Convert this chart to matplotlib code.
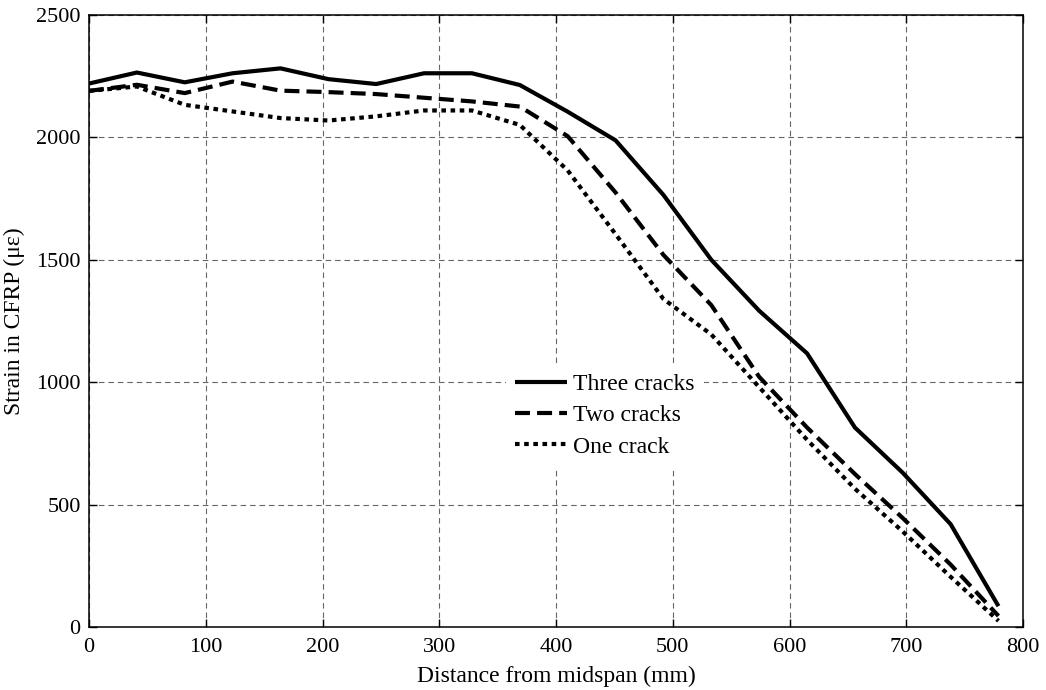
import numpy as np
import matplotlib.pyplot as plt

# distance from midspan (mm) and CFRP strain (micro-strain) for each crack case
distance = [0, 41, 82, 123, 164, 205, 246, 287, 328, 369,
            410, 451, 492, 533, 574, 615, 656, 697, 738, 779]
three_cracks = [2220, 2265, 2225, 2262, 2282, 2238, 2218, 2262, 2262, 2214,
                2105, 1988, 1765, 1500, 1292, 1118, 815, 630, 420, 85]
two_cracks = [2190, 2215, 2181, 2228, 2191, 2185, 2177, 2162, 2147, 2126,
              2005, 1775, 1520, 1315, 1022, 815, 625, 445, 255, 45]
one_crack = [2190, 2208, 2133, 2106, 2079, 2069, 2086, 2110, 2110, 2051,
             1865, 1605, 1340, 1195, 980, 765, 565, 390, 205, 25]

plt.rcParams["font.family"] = ["Liberation Serif", "DejaVu Serif"]

fig = plt.figure(figsize=(10.46, 6.9), dpi=100)
ax = fig.add_axes([89 / 1046, 1 - 627 / 690, 934 / 1046, 612 / 690])

lw = 3
ax.plot(distance, three_cracks, color="black", lw=lw, solid_capstyle="butt",
        label="Three cracks")
ax.plot(distance, two_cracks, color="black", lw=lw, dashes=(3.6, 1.7),
        dash_capstyle="butt", label="Two cracks")
ax.plot(distance, one_crack, color="black", lw=lw, dashes=(1.1, 1.1),
        dash_capstyle="butt", label="One crack")

ax.set_xlim(0, 800)
ax.set_ylim(0, 2500)
ax.set_xticks(np.arange(0, 801, 100))
ax.set_yticks(np.arange(0, 2501, 500))

ax.grid(True, color="#666666", linestyle=(0, (5, 3.5)), linewidth=0.8)
ax.set_axisbelow(True)

ax.tick_params(direction="in", length=6, width=1, top=True, right=True,
               labelsize=16, pad=6)
ax.tick_params(axis="x", pad=8)
for s in ax.spines.values():
    s.set_linewidth(1.1)

ax.set_xlabel("Distance from midspan (mm)", fontsize=17, labelpad=6)
ax.set_ylabel("Strain in CFRP (\u03bc\u03b5)", fontsize=17, labelpad=8)

# white box behind the legend hides the grid, no visible border
leg = ax.legend(loc="upper left", bbox_to_anchor=(0.446, 0.43),
                frameon=True, fancybox=False, framealpha=1,
                facecolor="white", edgecolor="none",
                fontsize=17, handlelength=2.2, handletextpad=0.25,
                labelspacing=0.42, borderaxespad=0, borderpad=0.4)

fig.savefig("out.png", dpi=100)
